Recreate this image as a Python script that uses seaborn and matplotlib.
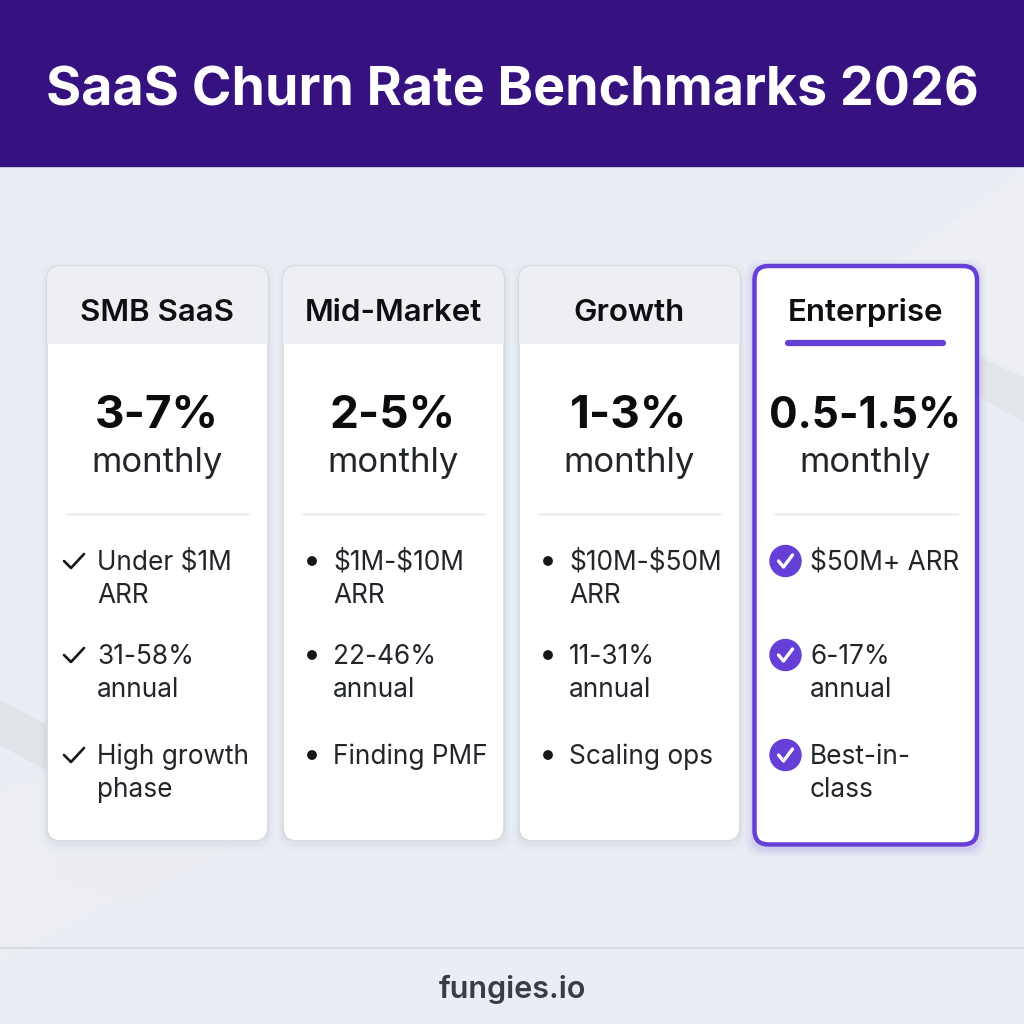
import matplotlib
matplotlib.use("Agg")
import matplotlib.pyplot as plt
import seaborn as sns
from matplotlib.patches import FancyBboxPatch, Rectangle, Circle, Polygon

title = "SaaS Churn Rate Benchmarks 2026"
footer = "fungies.io"
tiers = ["SMB SaaS", "Mid-Market", "Growth", "Enterprise"]
rates = ["3-7%", "2-5%", "1-3%", "0.5-1.5%"]
periods = ["monthly"] * 4
line1 = [["Under $1M", "ARR"], ["$1M-$10M", "ARR"], ["$10M-$50M", "ARR"], ["$50M+ ARR"]]
line2 = [["31-58%", "annual"], ["22-46%", "annual"], ["11-31%", "annual"], ["6-17%", "annual"]]
line3 = [["High growth", "phase"], ["Finding PMF"], ["Scaling ops"], ["Best-in-", "class"]]
markers = ["check", "dot", "dot", "badge"]
rate_sizes = [33, 33, 33, 30.5]

sns.set_theme(style="white")
plt.rcParams['font.family'] = ['Inter', 'DejaVu Sans']

BG = "#E9EDF4"
fig = plt.figure(figsize=(10.24, 10.24), dpi=100, facecolor=BG)
ax = fig.add_axes([0, 0, 1, 1])
ax.set_xlim(0, 1024); ax.set_ylim(1024, 0); ax.axis("off")

# background decorative bands
ax.add_patch(Polygon([[0,790],[60,775],[130,815],[150,845],[135,890],[0,960]], fc="#ECEEF2", ec="none", zorder=0))
ax.add_patch(Polygon([[47,842],[240,842],[135,905],[60,880]], fc="#EBEDF2", ec="none", zorder=0))
ax.add_patch(Polygon([[0,700],[0,745],[60,778],[60,732]], fc="#E0E3E8", ec="none", zorder=0))
ax.add_patch(Polygon([[975,355],[1024,378],[1024,422],[975,395]], fc="#E2E5EA", ec="none", zorder=0))
ax.add_patch(Polygon([[900,260],[1024,170],[1024,375],[975,352],[975,260]], fc="#EDEFF3", ec="none", zorder=0))

# header and footer
ax.add_patch(Rectangle((0,0),1024,166,color="#35127F",zorder=1))
ax.text(512,92,title,color="white",fontsize=38.7,fontweight="bold",ha="center",va="center",zorder=2)
ax.plot([0,1024],[948,948],color="#D3D6DC",lw=1.2,zorder=1)
ax.text(512,989,footer,color="#3A3D42",fontsize=22,fontweight="semibold",ha="center",va="center")

PURPLE = "#6640D6"
lefts = [47,283,519,754.5]
widths = [221,221,221,222.5]
TOPS = [266,266,266,266]
BOTS = [841,841,841,844.5]
rows = [(563,596),(657,690),(757,790)]

for i,(x,W,name) in enumerate(zip(lefts,widths,tiers)):
    ent = i == 3
    cx = x + W/2
    TOP, BOT = TOPS[i], BOTS[i]
    # soft shadow
    for k,a in [(14,.015),(9,.025),(5,.035)] if not ent else [(18,.04),(12,.06),(7,.08)]:
        ax.add_patch(FancyBboxPatch((x-k/2,TOP+3-k/2),W+k,BOT-TOP+k,
            boxstyle="round,pad=0,rounding_size=15",fc=PURPLE if ent else "#6A7080",ec="none",alpha=a,zorder=2))
    card = FancyBboxPatch((x,TOP),W,BOT-TOP,boxstyle="round,pad=0,rounding_size=14",
        fc="white",ec=PURPLE if ent else "#D6D9DE",lw=3.2 if ent else 1.2,zorder=3)
    ax.add_patch(card)
    if not ent:
        head = Rectangle((x,TOP),W,78,fc="#EDEFF3",ec="none",zorder=3.2)
        ax.add_patch(head)
        head.set_clip_path(card)
    ax.text(cx-0.5,312.5 if ent else 313,name,fontsize=22.5,fontweight="semibold",color="#0E0F12",ha="center",va="center",zorder=5,parse_math=False)
    if ent:
        ax.plot([788,943],[342.5,342.5],color=PURPLE,lw=4.5,solid_capstyle="round",zorder=5)
    ax.text(cx-0.5,416,rates[i],fontsize=rate_sizes[i],fontweight="bold",color="#0B0C0F",ha="center",va="center",zorder=5)
    ax.text(cx-0.5,463,periods[i],fontsize=25,color="#22252A",ha="center",va="center",zorder=5)
    ax.plot([x+19,x+W-19],[514,514],color="#E1E3E7",lw=1,zorder=5)
    for (y1,y2),txt in zip(rows,[line1[i],line2[i],line3[i]]):
        tx = x + 50
        ym = y1 - 2
        if markers[i]=="check":
            mx = x+27
            ax.plot([mx-10,mx-3,mx+10],[ym+0,ym+7,ym-7],color="#15171A",lw=1.9,zorder=5)
        elif markers[i]=="dot":
            ax.add_patch(Circle((x+29,ym),4.2,color="#15171A",zorder=5))
        else:
            mx = x+31
            ax.add_patch(Circle((mx,ym),15.5,color=PURPLE,zorder=5))
            ax.plot([mx-7,mx-2,mx+7],[ym,ym+6,ym-6],color="white",lw=2.4,zorder=6)
            tx = x + 55.5
        for y,t in zip((y1,y2),txt):
            ax.text(tx,y,t,fontsize=18.9,color="#22252A",ha="left",va="center",zorder=5,parse_math=False)

fig.savefig("out.png",dpi=100,facecolor=fig.get_facecolor())
